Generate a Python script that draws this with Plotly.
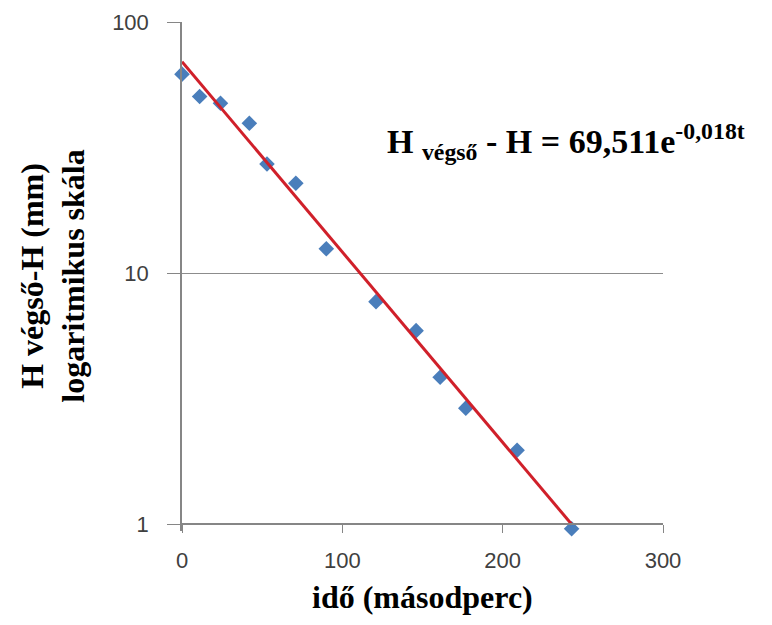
import math
import plotly.graph_objects as go

# measured data (time in seconds, H_final - H in mm)
time_s = [0, 11, 24, 42, 53, 71, 90, 121, 146, 161, 177, 209, 243]
h_diff = [62, 50.5, 47.5, 39.5, 27.2, 22.8, 12.5, 7.7, 5.9, 3.85, 2.9, 1.97, 0.96]

# exponential trendline end points (straight on log scale)
trend_t = [0, 243]
trend_h = [69.511, 1.0]

x_ticks = [0, 100, 200, 300]
y_ticks = [1, 10, 100]
y_tick_text = ["1", "10", "100"]

y_lo = math.log10(0.94)
y_hi = 2.0
x_axis_pos = (0 - y_lo) / (y_hi - y_lo)

fig = go.Figure()
fig.add_trace(go.Scatter(
    x=time_s, y=h_diff, mode="markers",
    marker=dict(symbol="diamond", size=12, color="#4a7ebb"),
    cliponaxis=False, showlegend=False))
fig.add_trace(go.Scatter(
    x=trend_t, y=trend_h, mode="lines",
    line=dict(color="#d0202a", width=3),
    cliponaxis=False, showlegend=False))

tick_font = dict(family="Liberation Sans", size=22, color="#404040")
fig.update_layout(
    width=772, height=625,
    margin=dict(l=174, r=117, t=14, b=102),
    paper_bgcolor="white", plot_bgcolor="white",
    xaxis=dict(range=[0, 300], tickvals=x_ticks, showgrid=False, zeroline=False,
               anchor="free", position=x_axis_pos, automargin=False,
               showline=True, linecolor="#868686", linewidth=1.5,
               ticks="outside", ticklen=8, tickcolor="#868686",
               tickfont=tick_font, ticklabelstandoff=9),
    yaxis=dict(type="log", range=[y_lo, y_hi], tickvals=y_ticks, ticktext=y_tick_text,
               automargin=False,
               showgrid=True, gridcolor="#8c8c8c", gridwidth=1, zeroline=False,
               showline=True, linecolor="#868686", linewidth=1.5,
               ticks="outside", ticklen=13, tickcolor="#868686",
               tickfont=tick_font, ticklabelstandoff=14),
    annotations=[
        dict(text="<b>H végső-H (mm)<br>logaritmikus skála</b>", textangle=-90,
             xref="paper", yref="paper", x=-0.27, y=0.5,
             showarrow=False, xanchor="center", yanchor="middle",
             font=dict(family="Liberation Serif", size=32, color="black")),
        dict(text="<b>idő (másodperc)</b>", xref="paper", yref="paper",
             x=0.5, y=-0.13, showarrow=False, xanchor="center", yanchor="middle",
             font=dict(family="Liberation Serif", size=32, color="black")),
        dict(text="<b>H <sub>végső</sub> - H = 69,511e<sup>-0,018t</sup></b>",
             xref="paper", yref="paper", x=0.798, y=0.765,
             showarrow=False, xanchor="center", yanchor="middle",
             font=dict(family="Liberation Serif", size=34, color="black")),
    ],
)
fig.write_html("out.html")
